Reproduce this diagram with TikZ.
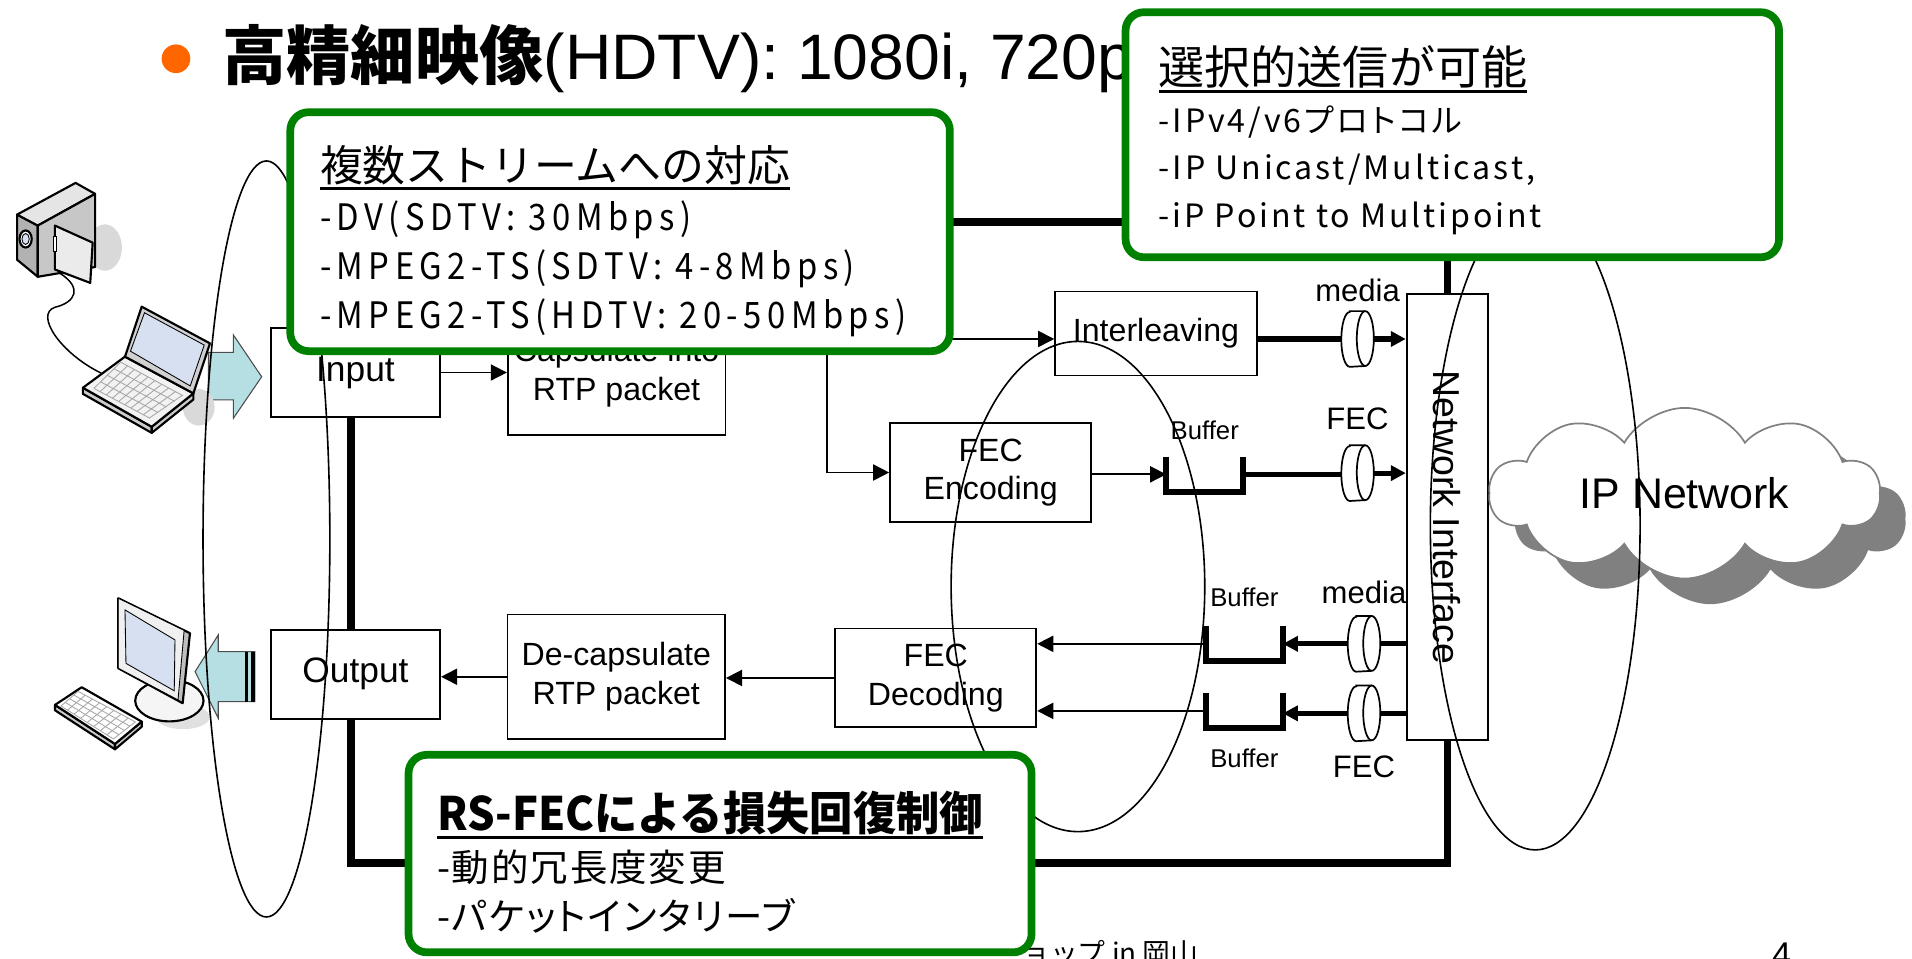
\documentclass[tikz,border=0pt]{standalone}
\usepackage{fontspec}
\setmainfont{Liberation Sans}
\newfontfamily\jpfont{Noto Sans CJK JP}
\newfontfamily\jpheavy[FakeStretch=0.94]{Noto Sans CJK JP}
\newfontfamily\jpleft[LetterSpace=15,FakeStretch=0.9,RawFeature=+palt]{Noto Sans CJK JP}
\newfontfamily\jpright[LetterSpace=9,RawFeature=+palt]{Noto Sans CJK JP}
\newfontfamily\jpbody[LetterSpace=5,RawFeature=+palt]{Noto Sans CJK JP}
\usetikzlibrary{positioning,arrows.meta,calc,shapes.symbols,shadows}

\definecolor{calloutgreen}{RGB}{0,128,0}
\definecolor{bulletorange}{RGB}{255,102,0}
\definecolor{arrowcyan}{RGB}{182,223,227}
\definecolor{screenblue}{RGB}{214,224,240}

% underlined heading of a note box
\newsavebox\headbox
\newcommand{\headline}[1]{\sbox\headbox{#1}\rlap{\usebox\headbox}\raisebox{-4pt}{\rule{\wd\headbox}{1.3pt}}}

\begin{document}
\begin{tikzpicture}[x=0.02cm, y=-0.02cm,
    box/.style={draw, fill=white, rectangle, line width=0.8pt, align=center, font=\fontsize{15pt}{18pt}\selectfont, inner sep=2pt},
    iobox/.style={box, minimum width=2.78cm, minimum height=1.46cm, font=\fontsize{16.5pt}{19pt}\selectfont},
    stagebox/.style={box, minimum width=3.3cm, minimum height=1.62cm},
    rtpbox/.style={box, minimum width=3.57cm, minimum height=2.04cm},
    chan/.style={minimum width=0.52cm, minimum height=0.9cm, inner sep=0pt},
    buffer/.style={minimum width=1.25cm, minimum height=0.56cm, inner sep=0pt},
    bufline/.style={line width=2.8pt},
    tag/.style={inner sep=0pt, font=\fontsize{14.5pt}{16pt}\selectfont},
    buftag/.style={inner sep=0pt, font=\fontsize{12pt}{14pt}\selectfont},
    thinline/.style={line width=0.8pt},
    arr/.style={thinline, -{Triangle[length=7.5pt, width=7.5pt]}},
    fatline/.style={line width=2.4pt},
    fatarr/.style={fatline, -{Triangle[length=7pt, width=7pt]}},
    loopline/.style={line width=3.6pt},
    ring/.style={line width=0.75pt},
    icon/.style={line width=1pt, line join=round},
    keyline/.style={line width=0.4pt, black!35},
    blockarrow/.style={fill=arrowcyan, draw=black!70, line width=0.5pt},
    notebox/.style={draw=calloutgreen, line width=3.6pt, fill=white, rounded corners=0.3cm},
    notetext/.style={inner sep=0pt, align=left},
]
\useasboundingbox (0,0) rectangle (1568,786);

% Thick loop behind the blocks
\draw[loopline] (288,182) rectangle (1187,708);

% Camcorder
\fill[black!15] (86,203) ellipse [x radius=14, y radius=19];
\draw[icon, fill=black!30] (14,176) -- (31,185) -- (31,227) -- (14,213) -- cycle;
\draw[icon, fill=black!10] (14,176) -- (62,150) -- (78,159) -- (31,185) -- cycle;
\draw[icon, fill=black!22] (31,185) -- (78,159) -- (78,219) -- (31,227) -- cycle;
\draw[icon, fill=white] (21,196) ellipse [x radius=5, y radius=7];
\draw[thin, fill=screenblue] (21,196) ellipse [x radius=3, y radius=4.5];
\draw[icon, fill=black!8] (45,185) -- (76,199) -- (74,232) -- (45,221) -- cycle;
\draw[thin, fill=white] (43.5,194) rectangle (46.5,206);
\draw[line width=0.7pt] (49,224) .. controls (68,236) and (62,248) .. (45,252)
  .. controls (28,258) and (50,290) .. (83,306);

% Block arrow into Input
\draw[blockarrow] (171,289) -- (191.4,289) -- (191.4,274.7) -- (214.6,309) -- (191.4,343) -- (191.4,328) -- (171,328) -- cycle;

% Laptop
\fill[black!15] (163,334) ellipse [x radius=13, y radius=15];
\draw[icon, fill=black!20] (68,318) -- (124.4,350) -- (124.4,355) -- (68,323) -- cycle;
\draw[icon, fill=black!20] (124.4,350) -- (158.6,322.6) -- (158.6,327.6) -- (124.4,355) -- cycle;
\draw[icon, fill=black!5] (68,318) -- (102.5,292.5) -- (158.6,322.6) -- (124.4,350) -- cycle;
\coordinate (kbl) at (99,297);
\coordinate (kbr) at (150,324.5);
\coordinate (kfr) at (123,343);
\coordinate (kfl) at (77,318.5);
\foreach \t in {0,0.25,0.5,0.75,1}
  \draw[keyline] ($(kfl)!\t!(kbl)$) -- ($(kfr)!\t!(kbr)$);
\foreach \s in {0,0.11,...,1}
  \draw[keyline] ($(kfl)!\s!(kfr)$) -- ($(kbl)!\s!(kbr)$);
\draw[icon, fill=black!18] (102.5,292.5) -- (116.2,251.5) -- (172.2,281.6) -- (158.6,322.6) -- cycle;
\draw[thin, fill=screenblue] (107,288) -- (118.5,256.5) -- (167.5,283) -- (156,316.5) -- cycle;

% Monitor and keyboard
\fill[black!12] (150,588) ellipse [x radius=22, y radius=10];
\draw[icon, fill=black!4] (138.9,574.6) ellipse [x radius=28, y radius=17];
\draw[icon, fill=black!25] (97,490.6) -- (155.8,519.3) -- (149.8,576.7) -- (97,548) -- cycle;
\draw[thin, fill=black!6] (97,490.6) -- (151,517) -- (146,574) -- (97,548) -- cycle;
\draw[thin, fill=screenblue] (102.5,500.2) -- (143.5,524.8) -- (142.9,566.5) -- (103.3,544) -- cycle;
\draw[icon, fill=black!20] (45.1,578.1) -- (94.3,610.1) -- (94.3,614.5) -- (45.1,582.5) -- cycle;
\draw[icon, fill=black!20] (94.3,610.1) -- (116.2,591.8) -- (116.2,596) -- (94.3,614.5) -- cycle;
\draw[icon, fill=white] (45.1,578.1) -- (67,563.6) -- (116.2,591.8) -- (94.3,610.1) -- cycle;
\coordinate (mbl) at (64,567);
\coordinate (mbr) at (111,592);
\coordinate (mfr) at (93,606);
\coordinate (mfl) at (50,579);
\foreach \t in {0,0.25,0.5,0.75,1}
  \draw[keyline] ($(mfl)!\t!(mbl)$) -- ($(mfr)!\t!(mbr)$);
\foreach \s in {0,0.125,...,1}
  \draw[keyline] ($(mfl)!\s!(mfr)$) -- ($(mbl)!\s!(mbr)$);

% Block arrow out of Output
\draw[blockarrow] (209,534.4) -- (179,534.4) -- (179,520.7) -- (160,550.8) -- (179,589) -- (179,575.4) -- (209,575.4) -- cycle;
\fill (201,534.4) rectangle (203.7,575.4);
\fill (205.6,534.4) rectangle (209.5,575.4);

% Sending side
\node[iobox] (input) at (291.5,305.5) {Input};
\node[rtpbox, right=1.08cm of input] (caps) {Capsulate into\\RTP packet};
\node[box, minimum width=3.31cm, minimum height=1.38cm] (interleave) at (948,273.5) {Interleaving};
\node[stagebox] (fecenc) at (812.4,387.5) {FEC\\Encoding};

% Network interface
\node[box, minimum width=1.33cm, minimum height=7.32cm] (ni) at (1186.8,424) {};
\node[rotate=-90, inner sep=0pt, font=\fontsize{17.5pt}{20pt}\selectfont] (nitext) at (ni.center) {Network Interface};

% Receiving side
\node[iobox, below=3.46cm of input] (output) {Output};
\node[rtpbox] (decaps) at (505.4,555) {De-capsulate\\RTP packet};
\node[stagebox] (fecdec) at (767.4,556) {FEC\\Decoding};

% Channels (drawn as small cans) and buffers
\node[chan] (media1) at (1113.3,278) {};
\node[chan] (fec1) at (1113.3,388) {};
\node[chan] (media2) at (1118.6,528) {};
\node[chan] (fec2) at (1118.6,585) {};
\foreach \c in {media1,fec1,media2,fec2} {
  \draw[thinline, fill=white] ([xshift=0.14cm]\c.north west) -- ([xshift=-0.14cm]\c.north east)
    arc[start angle=90, end angle=-90, x radius=0.14cm, y radius=0.45cm]
    -- ([xshift=0.14cm]\c.south west)
    arc[start angle=270, end angle=90, x radius=0.14cm, y radius=0.45cm] -- cycle;
  \draw[thinline] ([xshift=-0.14cm]\c.north east)
    arc[start angle=90, end angle=270, x radius=0.14cm, y radius=0.45cm];
}
\node[buffer] (buf1) at (988,389) {};
\node[buffer] (buf2) at (1020.5,528) {};
\node[buffer] (buf3) at (1020.5,583) {};
\foreach \b in {buf1,buf2,buf3}
  \draw[bufline] (\b.north west) -- (\b.south west) -- (\b.south east) -- (\b.north east);

\node[tag, above=0.15cm of media1] (medialbl1) {media};
\node[tag, above=0.24cm of fec1] (feclbl1) {FEC};
\node[tag, above=0.2cm of media2] (medialbl2) {media};
\node[tag, below=0.23cm of fec2] (feclbl2) {FEC};
\node[buftag, above=0.28cm of buf1] (buflbl1) {Buffer};
\node[buftag, above=0.31cm of buf2] (buflbl2) {Buffer};
\node[buftag, below=0.33cm of buf3] (buflbl3) {Buffer};

% Arrows, sending
\coordinate (split) at (678,284);
\draw[arr] (input.east) -- (input.east -| caps.west);
\draw[thinline] (caps.east |- split) -- (split);
\draw[arr] (split) |- (interleave.west |- media1);
\draw[arr] (split) |- (fecenc.west);
\draw[fatline] (interleave.east |- media1) -- (media1.west);
\draw[fatarr] (media1.east) -- (media1.east -| ni.west);
\draw[arr] (fecenc.east |- buf1) -- (buf1.west);
\draw[fatline] (buf1.east) -- (buf1.east -| fec1.west);
\draw[fatarr] (fec1.east) -- (fec1.east -| ni.west);

% Arrows, receiving
\draw[fatline] (media2.east -| ni.west) -- (media2.east);
\draw[fatarr] (media2.west) -- (media2.west -| buf2.east);
\draw[arr] (buf2.west) -- (buf2.west -| fecdec.east);
\draw[fatline] (fec2.east -| ni.west) -- (fec2.east);
\draw[fatarr] (fec2.west) -- (fec2.west -| buf3.east);
\draw[arr] (buf3.west) -- (buf3.west -| fecdec.east);
\draw[arr] (fecdec.west) -- (fecdec.west -| decaps.east);
\draw[arr] (decaps.west) -- (decaps.west -| output.east);

% IP network
\node[cloud, cloud puffs=10, cloud puff arc=120, cloud ignores aspect, draw=gray, fill=white, line width=0.8pt,
  minimum width=6.4cm, minimum height=2.8cm, font=\fontsize{20pt}{24pt}\selectfont,
  drop shadow={shadow xshift=0.42cm, shadow yshift=-0.42cm, fill=gray, opacity=1}] (ipnet) at (1381.5,404.5) {IP Network};

% Grouping ellipses
\draw[ring] (218.5,442) ellipse [x radius=52, y radius=310];
\draw[ring] (884,481) ellipse [x radius=104, y radius=201];
\draw[ring] (1259,431) ellipse [x radius=86, y radius=266];

% Title
\node[circle, fill=bulletorange, minimum size=0.47cm, inner sep=0pt] (bullet) at (144.3,48.2) {};
\node[anchor=base west, inner sep=0pt] (title) at (182,65.6)
  {{\jpfont\bfseries\fontsize{30pt}{36pt}\selectfont 高精細映像}{\fontsize{30pt}{36pt}\selectfont(HDTV): 1080i, 720p}};

% Footer
\node[anchor=north west, inner sep=0pt, font=\jpfont\fontsize{13pt}{15pt}\selectfont] (venue) at (838,771) {ョップ in 岡山};
\node[anchor=north west, inner sep=0pt, font=\fontsize{16pt}{18pt}\selectfont] (pageno) at (1453,773) {4};

% Note boxes
\node[notebox, minimum width=10.82cm, minimum height=3.92cm] (multi) at (508.5,190) {};
\node[notetext, below right=0.604cm and 0.544cm of multi.north west, font=\jpleft\fontsize{17pt}{22.8pt}\selectfont] (multitext)
  {{\jpfont\fontsize{20pt}{22.8pt}\selectfont\headline{複数ストリームへの対応}}\\-DV(SDTV: 30Mbps)\\-MPEG2-TS(SDTV: 4-8Mbps)\\-MPEG2-TS(HDTV: 20-50Mbps)};

\node[notebox, minimum width=10.72cm, minimum height=4.02cm] (select) at (1191,110.5) {};
\node[notetext, below right=0.6cm and 0.6cm of select.north west, font=\jpright\fontsize{15pt}{22.3pt}\selectfont] (selecttext)
  {{\jpfont\fontsize{21.5pt}{22.3pt}\selectfont\headline{選択的送信が可能}}\\-IPv4/v6プロトコル\\-IP Unicast/Multicast,\\-iP Point to Multipoint};

\node[notebox, minimum width=10.22cm, minimum height=3.24cm] (rsfec) at (590.5,700) {};
\node[notetext, below right=0.644cm and 0.524cm of rsfec.north west, font=\jpbody\fontsize{17.5pt}{22.8pt}\selectfont] (rsfectext)
  {{\jpheavy\bfseries\fontsize{21.5pt}{22.8pt}\selectfont\headline{RS-FECによる損失回復制御}}\\[1.4pt]-動的冗長度変更\\-パケットインタリーブ};
\end{tikzpicture}
\end{document}
